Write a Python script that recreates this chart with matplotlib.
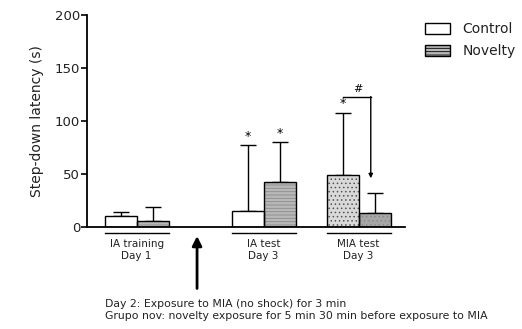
import numpy as np
import matplotlib.pyplot as plt
from matplotlib.patches import Patch

plt.rcParams['font.family'] = ['DejaVu Sans']
plt.rcParams['hatch.linewidth'] = 0.6

groups = ['IA training\nDay 1', 'IA test\nDay 3', 'MIA test\nDay 3']
control_mean = [10, 15, 49]
control_err = [4, 62, 59]
novelty_mean = [6, 42, 13]
novelty_err = [13, 38, 19]
control_star = [False, True, True]
novelty_star = [False, True, False]

ctrl_x = np.array([0.5, 4.47, 7.44])
nov_x = ctrl_x + 1.0
arrow_x = 2.89

fig = plt.figure(figsize=(5.22, 3.29), dpi=100)
ax = fig.add_axes([87/522, 1 - 227/329, 318/522, 212/329])

# control bars (plain, first two groups) and dotted one for MIA test
ctrl_face = ['white', 'white', '#d9d9d9']
ctrl_hatch = [None, None, '....']
nov_face = ['#b8b8b8', '#b8b8b8', '#a6a6a6']
nov_hatch = ['-----', '-----', '....']
for i in range(3):
    ax.bar(ctrl_x[i], control_mean[i], width=1.0, color=ctrl_face[i],
           hatch=ctrl_hatch[i], edgecolor='#555555', linewidth=0, zorder=2)
    ax.bar(ctrl_x[i], control_mean[i], width=1.0, fill=False,
           edgecolor='black', linewidth=1.0, zorder=3)
    ax.bar(nov_x[i], novelty_mean[i], width=1.0, color=nov_face[i],
           hatch=nov_hatch[i], edgecolor='#8a8a8a', linewidth=0, zorder=2)
    ax.bar(nov_x[i], novelty_mean[i], width=1.0, fill=False,
           edgecolor='black', linewidth=1.0, zorder=3)

ax.errorbar(ctrl_x, control_mean, yerr=[np.zeros(3), control_err], fmt='none',
            ecolor='black', elinewidth=1.0, capsize=6, capthick=1.0, zorder=1)
ax.errorbar(nov_x, novelty_mean, yerr=[np.zeros(3), novelty_err], fmt='none',
            ecolor='black', elinewidth=1.0, capsize=6, capthick=1.0, zorder=1)

for i in range(3):
    if control_star[i]:
        ax.text(ctrl_x[i], control_mean[i] + control_err[i] + 2, '*',
                ha='center', va='bottom', fontsize=9)
    if novelty_star[i]:
        ax.text(nov_x[i], novelty_mean[i] + novelty_err[i] + 2, '*',
                ha='center', va='bottom', fontsize=9)

# '#' comparison bracket in MIA test
bx0, bx1, by = ctrl_x[2], nov_x[2] - 0.12, 123
ax.plot([bx0, bx1], [by, by], color='black', lw=1.0)
ax.annotate('', xy=(bx1, novelty_mean[2] + novelty_err[2] + 14), xytext=(bx1, by),
            arrowprops=dict(arrowstyle='-|>', color='black', lw=1.0,
                            mutation_scale=6, shrinkA=0, shrinkB=0))
ax.text((bx0 + bx1) / 2 + 0.02, by + 2, '#', ha='center', va='bottom', fontsize=8)

ax.set_xlim(-0.55, 9.39)
ax.set_ylim(0, 200)
ax.set_yticks([0, 50, 100, 150, 200])
ax.set_xticks([])
ax.tick_params(axis='y', direction='out', length=4, width=1.2, labelsize=9.5,
               pad=1, labelcolor='#222222')
for s in ['top', 'right']:
    ax.spines[s].set_visible(False)
ax.spines['left'].set_linewidth(1.3)
ax.spines['bottom'].set_linewidth(1.3)
ax.set_ylabel('Step-down latency (s)', fontsize=10, labelpad=8, color='#222222')

# group underlines and labels
for i in range(3):
    x0, x1 = ctrl_x[i] - 0.5, nov_x[i] + 0.5
    ax.plot([x0, x1], [-5.7, -5.7], color='black', lw=1.0, clip_on=False)
    ax.text((x0 + x1) / 2, -11, groups[i], ha='center', va='top',
            fontsize=7.5, linespacing=1.35, color='#222222')

ax.annotate('', xy=(arrow_x, -8.5), xytext=(arrow_x, -58), annotation_clip=False,
            arrowprops=dict(arrowstyle='-|>', color='black', lw=2.0,
                            mutation_scale=14, shrinkA=0, shrinkB=0))

handles = [Patch(facecolor='white', edgecolor='black', lw=1.0, label='Control'),
           Patch(facecolor='#b8b8b8', edgecolor='black', lw=1.0, hatch='-----',
                 label='Novelty')]
fig.legend(handles=handles, loc='upper left', bbox_to_anchor=(425/522, 1 - 22/329),
           frameon=False, fontsize=10, handlelength=1.8, handleheight=0.85,
           handletextpad=0.9, labelspacing=0.6, borderpad=0, borderaxespad=0,
           labelcolor='#222222')

fig.text(105/522, 1 - 304/329, 'Day 2: Exposure to MIA (no shock) for 3 min',
         fontsize=7.8, va='center', color='#222222')
fig.text(105/522, 1 - 316/329,
         'Grupo nov: novelty exposure for 5 min 30 min before exposure to MIA',
         fontsize=7.8, va='center', color='#222222')

fig.savefig('out.png', dpi=100)
